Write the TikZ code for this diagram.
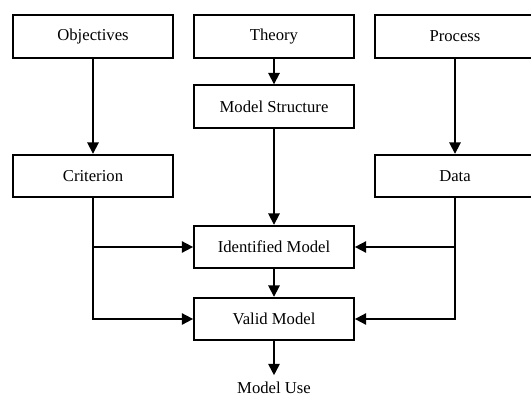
\documentclass[tikz,border=0pt]{standalone}
\usepackage{fontspec}
\setmainfont{Liberation Serif}
\usetikzlibrary{arrows.meta, positioning}

\begin{document}
\begin{tikzpicture}[
  x=0.75pt, y=-0.75pt,
  box/.style={rectangle, draw, line width=1.3pt, minimum width=120pt, minimum height=32pt, align=center, font=\fontsize{12.5}{15}\selectfont},
  arrow/.style={-{Triangle[length=8.5pt,width=8.5pt]}, line width=1.3pt},
  label/.style={inner ysep=5pt, font=\fontsize{12.5}{15}\selectfont}
]
\useasboundingbox (0,0) rectangle (531,397);

%% Boxes
\node[box] (obj) at (93,36.5) {Objectives};
\node[box] (theory) at (274,36.5) {Theory};
\node[box] (proc) at (455,36.5) {Process};
\node[box] (struct) at (274,106.5) {Model Structure};
\node[box] (crit) at (93,176) {Criterion};
\node[box] (data) at (455,176) {Data};
\node[box] (ident) at (274,247) {Identified Model};
\node[box] (valid) at (274,319) {Valid Model};
\node[label] (use) at (274,388) {Model Use};

%% Arrows
\draw[arrow] (obj) -- (crit);
\draw[arrow] (theory) -- (struct);
\draw[arrow] (proc) -- (data);
\draw[arrow] (struct) -- (ident);
\draw[arrow] (ident) -- (valid);
\draw[arrow] (valid) -- (use);
\draw[arrow] (crit.south) |- (ident.west);
\draw[arrow] (crit.south) |- (valid.west);
\draw[arrow] (data.south) |- (ident.east);
\draw[arrow] (data.south) |- (valid.east);

\end{tikzpicture}
\end{document}
